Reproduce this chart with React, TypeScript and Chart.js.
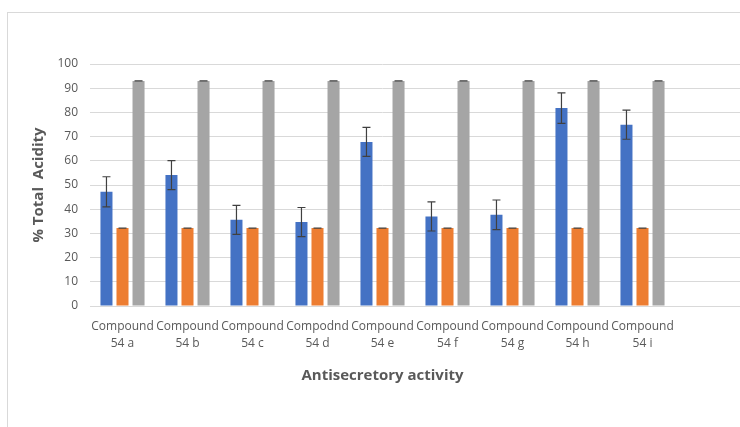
import React, { useEffect, useRef } from "react";
import { Chart, registerables } from "chart.js";

Chart.register(...registerables);

const categories: string[][] = [
  ["Compound", "54 a"],
  ["Compound", "54 b"],
  ["Compound", "54 c"],
  ["Compodnd", "54 d"],
  ["Compound", "54 e"],
  ["Compound", "54 f"],
  ["Compound", "54 g"],
  ["Compound", "54 h"],
  ["Compound", "54 i"],
];

const seriesBlue = [47.2, 54.1, 35.6, 34.7, 67.8, 37.0, 37.7, 81.8, 74.9];
const errorsBlue = [6.2, 6.0, 6.0, 6.0, 6.0, 6.0, 6.1, 6.3, 6.0];
const seriesOrange = [32.2, 32.2, 32.2, 32.2, 32.2, 32.2, 32.2, 32.2, 32.2];
const errorsOrange = [0, 0, 0, 0, 0, 0, 0, 0, 0];
const seriesGray = [93, 93, 93, 93, 93, 93, 93, 93, 93];
const errorsGray = [0, 0, 0, 0, 0, 0, 0, 0, 0];

const errorSets = [errorsBlue, errorsOrange, errorsGray];

const yTitle = "% Total  Acidity";
const xTitle = "Antisecretory activity";

const GRID = "#d9d9d9";
const TEXT = "#595959";
const FONT = "'Open Sans', 'Noto Sans', sans-serif";

const errorBarPlugin = {
  id: "errorBars",
  afterDatasetsDraw(chart: any) {
    const ctx = chart.ctx;
    const y = chart.scales.y;
    chart.data.datasets.forEach((ds: any, i: number) => {
      const meta = chart.getDatasetMeta(i);
      const errs = errorSets[i];
      meta.data.forEach((bar: any, j: number) => {
        const v = ds.data[j];
        const e = errs[j];
        const x = bar.x;
        const top = y.getPixelForValue(v + e);
        const bot = y.getPixelForValue(v - e);
        ctx.save();
        ctx.strokeStyle = "#404040";
        ctx.lineWidth = 1.2;
        ctx.beginPath();
        ctx.moveTo(x, top);
        ctx.lineTo(x, bot);
        ctx.moveTo(x - 4, top);
        ctx.lineTo(x + 4, top);
        ctx.moveTo(x - 4, bot);
        ctx.lineTo(x + 4, bot);
        ctx.stroke();
        ctx.restore();
      });
    });
  },
};

const gridExtendPlugin = {
  id: "gridExtend",
  beforeDatasetsDraw(chart: any) {
    const ctx = chart.ctx;
    const y = chart.scales.y;
    const right = chart.chartArea.right;
    ctx.save();
    ctx.strokeStyle = GRID;
    ctx.lineWidth = 1;
    y.ticks.forEach((t: any) => {
      const raw = y.getPixelForValue(t.value);
      const py = Math.round(raw - 0.5) + 0.5;
      ctx.beginPath();
      ctx.moveTo(right - 1, py);
      ctx.lineTo(chart.width, py);
      ctx.stroke();
    });
    ctx.restore();
  },
};

export default function App() {
  const canvasRef = useRef<HTMLCanvasElement | null>(null);

  useEffect(() => {
    if (!canvasRef.current) return;
    const chart = new Chart(canvasRef.current, {
      type: "bar",
      data: {
        labels: categories,
        datasets: [
          { label: "Blue", data: seriesBlue, backgroundColor: "#4472C4" },
          { label: "Orange", data: seriesOrange, backgroundColor: "#ED7D31" },
          { label: "Gray", data: seriesGray, backgroundColor: "#A5A5A5" },
        ],
      },
      options: {
        responsive: false,
        animation: false,
        devicePixelRatio: 1,
        layout: { padding: { top: 64, right: 65, left: 0, bottom: 0 } },
        datasets: {
          bar: { categoryPercentage: 0.74, barPercentage: 0.75 },
        },
        plugins: {
          legend: { display: false },
          tooltip: { enabled: false },
        },
        scales: {
          x: {
            grid: { display: false, drawTicks: false },
            border: { display: true, color: GRID },
            ticks: {
              color: TEXT,
              font: { family: FONT, size: 12, lineHeight: 1.4 },
              padding: 12,
              autoSkip: false,
              maxRotation: 0,
              minRotation: 0,
            },
            title: {
              display: true,
              text: xTitle,
              color: TEXT,
              font: { family: FONT, size: 15, weight: "bold" },
              padding: { top: 0, bottom: 42 },
            },
            afterFit(scale: any) {
              scale.height = 121;
            },
          },
          y: {
            min: 0,
            max: 100,
            grid: { color: GRID, drawTicks: false },
            border: { display: false },
            ticks: {
              stepSize: 10,
              color: TEXT,
              font: { family: FONT, size: 12 },
              padding: 12,
            },
            title: {
              display: true,
              text: yTitle,
              color: TEXT,
              font: { family: FONT, size: 15, weight: "bold" },
              padding: { top: 30, bottom: 0 },
            },
            afterFit(scale: any) {
              scale.width = 90;
            },
          },
        },
      },
      plugins: [gridExtendPlugin, errorBarPlugin],
    });
    return () => chart.destroy();
  }, []);

  return (
    <div
      style={{
        position: "absolute",
        left: 0,
        top: 0,
        width: 740,
        height: 427,
        overflow: "hidden",
        background: "#fff",
      }}
    >
      <div
        style={{
          position: "absolute",
          left: 7,
          top: 12,
          width: 800,
          height: 500,
          borderLeft: `1px solid ${GRID}`,
          borderTop: `1px solid ${GRID}`,
        }}
      />
      <canvas
        ref={canvasRef}
        width={740}
        height={427}
        style={{ position: "absolute", left: 0, top: 0 }}
      />
    </div>
  );
}
